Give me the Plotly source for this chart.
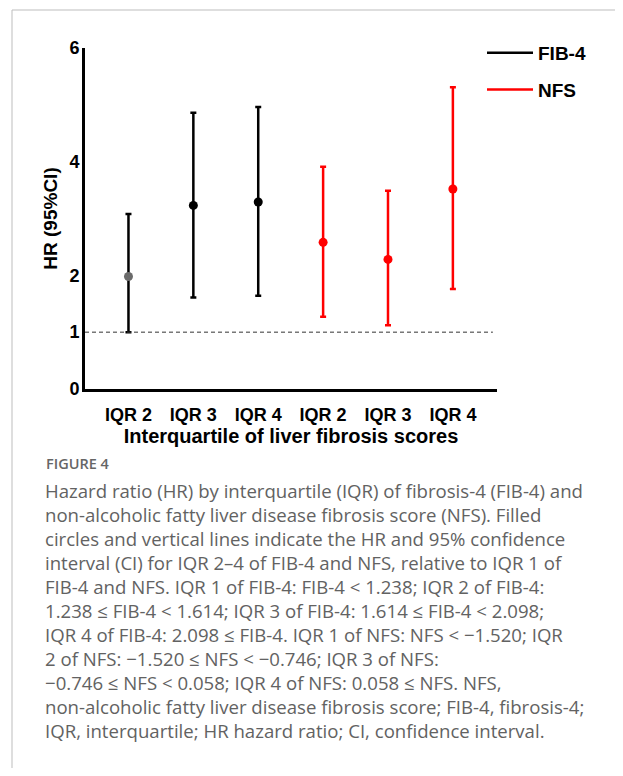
import plotly.graph_objects as go

# ---------------- data ----------------
iqr_labels = ["IQR 2", "IQR 3", "IQR 4"]
fib4_hr = [1.98, 3.23, 3.29]
fib4_lo = [1.00, 1.61, 1.64]
fib4_hi = [3.08, 4.86, 4.96]
nfs_hr = [2.58, 2.28, 3.52]
nfs_lo = [1.27, 1.12, 1.76]
nfs_hi = [3.91, 3.49, 5.31]
fib4_marker_colors = ["#6b6b6b", "#000000", "#000000"]
ref_hr = 1
y_ticks = [0, 1, 2, 4, 6]
series_names = ["FIB-4", "NFS"]

caption_head = "FIGURE 4"
caption_lines = [
    "Hazard ratio (HR) by interquartile (IQR) of fibrosis-4 (FIB-4) and",
    "non-alcoholic fatty liver disease fibrosis score (NFS). Filled",
    "circles and vertical lines indicate the HR and 95% confidence",
    "interval (CI) for IQR 2–4 of FIB-4 and NFS, relative to IQR 1 of",
    "FIB-4 and NFS. IQR 1 of FIB-4: FIB-4 < 1.238; IQR 2 of FIB-4:",
    "1.238 ≤ FIB-4 < 1.614; IQR 3 of FIB-4: 1.614 ≤ FIB-4 < 2.098;",
    "IQR 4 of FIB-4: 2.098 ≤ FIB-4. IQR 1 of NFS: NFS < −1.520; IQR",
    "2 of NFS: −1.520 ≤ NFS < −0.746; IQR 3 of NFS:",
    "−0.746 ≤ NFS < 0.058; IQR 4 of NFS: 0.058 ≤ NFS. NFS,",
    "non-alcoholic fatty liver disease fibrosis score; FIB-4, fibrosis-4;",
    "IQR, interquartile; HR hazard ratio; CI, confidence interval.",
]

# ---------------- layout constants (page pixel coordinates) ----------------
OFF = 8                      # default body margin of the html page
PAGE_W, PAGE_H = 623, 776
W, H = PAGE_W - OFF, PAGE_H - 2 * OFF
PLOT_L, PLOT_R, PLOT_T, PLOT_B = 85, 497, 48, 389   # plot area on the page
ML, MT = PLOT_L - OFF, PLOT_T - OFF
MR, MB = W - (PLOT_R - OFF), H - (PLOT_B - OFF)
PW, PH = PLOT_R - PLOT_L, PLOT_B - PLOT_T
AX_FONT = "Arial, Liberation Sans, sans-serif"
CAP_FONT = "Open Sans, sans-serif"


def px_x(page_x):
    return (page_x - PLOT_L) / PW


def px_y(page_y):
    return (PLOT_B - page_y) / PH


n = len(iqr_labels)
x_fib = list(range(n))
x_nfs = list(range(n, 2 * n))

fig = go.Figure()

fig.add_trace(go.Scatter(
    x=x_fib, y=fib4_hr, mode="markers", showlegend=False,
    marker=dict(size=9, color=fib4_marker_colors),
    error_y=dict(type="data", symmetric=False,
                 array=[h - v for h, v in zip(fib4_hi, fib4_hr)],
                 arrayminus=[v - l for l, v in zip(fib4_lo, fib4_hr)],
                 color="#000000", thickness=2.5, width=3),
))
fig.add_trace(go.Scatter(
    x=x_nfs, y=nfs_hr, mode="markers", showlegend=False,
    marker=dict(size=9, color="#ff0000"),
    error_y=dict(type="data", symmetric=False,
                 array=[h - v for h, v in zip(nfs_hi, nfs_hr)],
                 arrayminus=[v - l for l, v in zip(nfs_lo, nfs_hr)],
                 color="#ff0000", thickness=2.5, width=3),
))

# legend entries (line style)
for name, col in zip(series_names, ["#000000", "#ff0000"]):
    fig.add_trace(go.Scatter(x=[None], y=[None], mode="lines", name=name,
                             legendgroup=name,
                             line=dict(color=col, width=2.5)))

fig.add_shape(type="line", xref="x domain", yref="y",
              x0=0, x1=0.99, y0=ref_hr, y1=ref_hr,
              line=dict(color="#333333", width=1, dash="4px,3px"))

# border lines of the figure panel
fig.add_shape(type="line", xref="paper", yref="paper",
              x0=px_x(12), x1=px_x(PAGE_W + 5), y0=px_y(10), y1=px_y(10),
              line=dict(color="#bdbdbd", width=1))
fig.add_shape(type="line", xref="paper", yref="paper",
              x0=px_x(12), x1=px_x(12), y0=px_y(10), y1=px_y(PAGE_H + 20),
              line=dict(color="#bdbdbd", width=1))

# caption
fig.add_annotation(xref="paper", yref="paper", x=px_x(44), y=px_y(463),
                   xanchor="left", yanchor="middle", showarrow=False,
                   text=caption_head,
                   font=dict(family=CAP_FONT, size=14.5,
                             color="#666666", weight=600))
for i, line in enumerate(caption_lines):
    fig.add_annotation(xref="paper", yref="paper", x=px_x(43),
                       y=px_y(490 + 24 * i),
                       xanchor="left", yanchor="middle", showarrow=False,
                       text=line,
                       font=dict(family=CAP_FONT, size=18.6, color="#626262"))

fig.update_xaxes(
    range=[-0.67, 5.68],
    tickmode="array", tickvals=x_fib + x_nfs, ticktext=iqr_labels + iqr_labels,
    ticks="", showgrid=False, zeroline=False,
    showline=True, linecolor="#000000", linewidth=3,
    tickfont=dict(family=AX_FONT, size=18, color="#000000", weight="bold"),
    ticklabelstandoff=7,
    title=dict(text="Interquartile of liver fibrosis scores", standoff=4,
               font=dict(family=AX_FONT, size=20, color="#000000", weight="bold")),
)
fig.update_yaxes(
    range=[0, 6],
    tickmode="array", tickvals=y_ticks,
    ticks="", ticklen=0, showgrid=False, zeroline=False,
    showline=True, linecolor="#000000", linewidth=3,
    tickfont=dict(family=AX_FONT, size=18, color="#000000", weight="bold"),
    ticklabelstandoff=-1,
    title=dict(text="HR (95%CI)", standoff=7,
               font=dict(family=AX_FONT, size=19, color="#000000", weight="bold")),
)

fig.update_layout(
    width=W, height=H,
    margin=dict(l=ML, r=MR, t=MT, b=MB, autoexpand=False),
    paper_bgcolor="#ffffff", plot_bgcolor="#ffffff",
    showlegend=True,
    legend=dict(x=px_x(482), y=px_y(34), xanchor="left", yanchor="top",
                traceorder="grouped", tracegroupgap=9, itemwidth=46,
                bgcolor="rgba(0,0,0,0)",
                font=dict(family=AX_FONT, size=19, color="#000000", weight="bold")),
)

fig.write_html("out.html")
